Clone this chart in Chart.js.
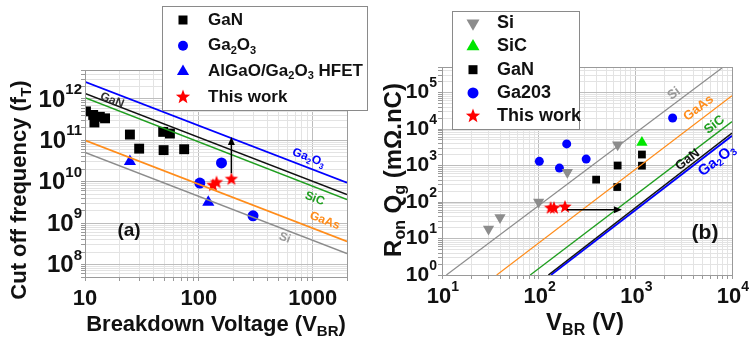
<!DOCTYPE html>
<html>
<head>
<meta charset="utf-8">
<script src="https://cdn.jsdelivr.net/npm/chart.js@4.4.1/dist/chart.umd.min.js"></script>
<style>
  body { margin: 0; background: #fff; }
  #wrap { position: relative; width: 754px; height: 342px; }
  canvas { position: absolute; top: 0; }
  #ca { left: 0; }
  #cb { left: 380px; }
</style>
</head>
<body>
<div id="wrap">
  <canvas id="ca" width="380" height="342"></canvas>
  <canvas id="cb" width="374" height="342"></canvas>
</div>
<script>
"use strict";

// ---- panel (a): cut-off frequency vs breakdown voltage ----
const ganV = [10.2, 11.8, 12.1, 13.5, 15.0, 24.8, 29.9, 48.6, 55.7, 49, 74.3];
const ganFt = [5e11, 4.1e11, 2.7e11, 3.7e11, 3.4e11, 1.38e11, 6.3e10, 1.6e11, 1.46e11, 5.8e10, 6.1e10];
const ga2o3V = [158, 102, 299];
const ga2o3Ft = [2.85e10, 9.3e9, 1.5e9];
const hfetV = [24.8, 121];
const hfetFt = [3.1e10, 3.2e9];
const workV = [133, 143, 193];
const workFt = [8.2e9, 9.6e9, 1.15e10];
// material limit lines (end points)
const limitVa = [10, 2000];
const limitGa2O3a = [2.6e12, 9.5e9];
const limitGaNa = [1.35e12, 4.9e9];
const limitSiCa = [1.07e12, 3.7e9];
const limitGaAsa = [1e11, 3.6e8];
const limitSia = [5.1e10, 1.85e8];
const arrowVa = [193, 193];
const arrowFta = [1.6e10, 1.2e11];

// ---- panel (b): Ron*Qg vs breakdown voltage ----
const siBV = [30.3, 39.8, 100, 198, 656];
const siBR = [18.2, 37.8, 100, 650, 3700];
const sicBV = [1170];
const sicBR = [4300];
const ganBV = [1170, 1170, 656, 393, 650];
const ganBR = [2000, 990, 1000, 410, 257];
const ga2o3BV = [101.6, 164, 195, 310, 2430];
const ga2o3BR = [1300, 850, 3900, 1500, 20000];
const workBV = [133, 144, 187];
const workBR = [68, 68, 73];
const limitSiBV = [11.1, 7870], limitSiBR = [1, 4.7e5];
const limitGaAsBV = [36.8, 10000], limitGaAsBR = [1, 8.1e4];
const limitSiCBV = [81.8, 10000], limitSiCBR = [1, 1.6e4];
const limitGaNBV = [126, 10000], limitGaNBR = [1, 7.7e3];
const limitGa2O3BV = [134, 10000], limitGa2O3BR = [1, 6.5e3];
const arrowVb = [196, 726];
const arrowRb = [61, 61];

const FONT = '"Liberation Sans", Arial, sans-serif';
const BLUE = "#0000ff", RED = "#ff0000", GRAY = "#8c8c8c", ORANGE = "#ff8c1a", GREEN = "#1f9e1f", LIME = "#00e600";

function pts(xs, ys) { return xs.map((x, i) => ({ x, y: ys[i] })); }

function isPow10(v) {
  const l = Math.log10(v);
  return Math.abs(l - Math.round(l)) < 1e-6;
}

function logTicks(min, max) {
  const out = [];
  for (let e = Math.floor(Math.log10(min)); e <= Math.ceil(Math.log10(max)); e++) {
    for (let m = 1; m < 10; m++) {
      const v = m * Math.pow(10, e);
      if (v >= min * 0.999 && v <= max * 1.001) out.push({ value: v });
    }
  }
  return out;
}

function logAxis(min, max, fit) {
  return {
    type: "logarithmic", min, max,
    afterBuildTicks: (s) => { s.ticks = logTicks(min, max); },
    afterFit: fit,
    ticks: { display: false, autoSkip: false },
    grid: {
      color: (c) => (c.tick && isPow10(c.tick.value) ? "#bdbdbd" : "#e3e3e3"),
      lineWidth: 1, drawTicks: true, tickLength: 4, tickColor: "#9a9a9a",
    },
    border: { display: false },
  };
}

function lineSet(data, color, width) {
  return { data, showLine: true, borderColor: color, borderWidth: width, pointRadius: 0, fill: false };
}

function markSet(data, style, color, radius, rotation) {
  return {
    data, showLine: false, pointStyle: style, pointRadius: radius, pointRotation: rotation || 0,
    backgroundColor: color, borderColor: color, borderWidth: 0,
  };
}

function starPath(g, x, y, r) {
  g.beginPath();
  for (let i = 0; i < 10; i++) {
    const rr = i % 2 ? r * 0.42 : r;
    const a = -Math.PI / 2 + (i * Math.PI) / 5;
    g.lineTo(x + rr * Math.cos(a), y + rr * Math.sin(a));
  }
  g.closePath();
}

function starImage(r, color) {
  const c = document.createElement("canvas");
  const s = Math.ceil(2 * r + 2);
  c.width = s; c.height = s;
  const g = c.getContext("2d");
  starPath(g, s / 2, s / 2, r);
  g.fillStyle = color;
  g.fill();
  return c;
}

function marker(ctx, shape, color, x, y, r) {
  ctx.fillStyle = color;
  if (shape === "star") { starPath(ctx, x, y, r); ctx.fill(); return; }
  ctx.beginPath();
  if (shape === "rect") ctx.rect(x - r, y - r, 2 * r, 2 * r);
  else if (shape === "circle") ctx.arc(x, y, r, 0, Math.PI * 2);
  else {
    const base = shape === "down" ? Math.PI / 2 : -Math.PI / 2;
    for (let i = 0; i < 3; i++) {
      const a = base + (i * 2 * Math.PI) / 3;
      ctx.lineTo(x + r * Math.cos(a), y + r * Math.sin(a));
    }
    ctx.closePath();
  }
  ctx.fill();
}

// parts: [text, size, dy]
function rich(ctx, parts, x, y, align) {
  let w = 0;
  parts.forEach((p) => { ctx.font = `bold ${p[1]}px ${FONT}`; w += ctx.measureText(p[0]).width; });
  let cx = align === "center" ? x - w / 2 : align === "right" ? x - w : x;
  ctx.textAlign = "left";
  parts.forEach((p) => {
    ctx.font = `bold ${p[1]}px ${FONT}`;
    ctx.fillText(p[0], cx, y + (p[2] || 0));
    cx += ctx.measureText(p[0]).width;
  });
}

function subText(main, sub, tail, size) {
  const s = Math.round(size * 0.68);
  const parts = [[main, size, 0], [sub, s, size * 0.3]];
  if (tail) parts.push([tail, size, 0]);
  return parts;
}

function arrow(ctx, x1, y1, x2, y2) {
  ctx.strokeStyle = "#000";
  ctx.fillStyle = "#000";
  ctx.lineWidth = 1.5;
  const a = Math.atan2(y2 - y1, x2 - x1);
  const h = 8;
  ctx.beginPath();
  ctx.moveTo(x1, y1);
  ctx.lineTo(x2 - Math.cos(a) * h * 0.8, y2 - Math.sin(a) * h * 0.8);
  ctx.stroke();
  ctx.beginPath();
  ctx.moveTo(x2, y2);
  ctx.lineTo(x2 - h * Math.cos(a) + 3.5 * Math.sin(a), y2 - h * Math.sin(a) - 3.5 * Math.cos(a));
  ctx.lineTo(x2 - h * Math.cos(a) - 3.5 * Math.sin(a), y2 - h * Math.sin(a) + 3.5 * Math.cos(a));
  ctx.closePath();
  ctx.fill();
}

function legend(ctx, box, rows) {
  ctx.fillStyle = "#fff";
  ctx.fillRect(box.x, box.y, box.w, box.h);
  ctx.strokeStyle = "#8a8a8a";
  ctx.lineWidth = 1;
  ctx.strokeRect(box.x + 0.5, box.y + 0.5, box.w, box.h);
  rows.forEach((r, i) => {
    const y = box.first + i * box.step;
    marker(ctx, r.shape, r.color, box.symX, y, r.r);
    ctx.fillStyle = "#111";
    ctx.textBaseline = "middle";
    rich(ctx, r.text, box.textX, y, "left");
  });
}

function lineLabels(chart, ctx, labels) {
  const xs = chart.scales.x, ys = chart.scales.y;
  labels.forEach((l) => {
    const d = chart.data.datasets[l.ds].data;
    const ang = Math.atan2(ys.getPixelForValue(d[1].y) - ys.getPixelForValue(d[0].y),
                           xs.getPixelForValue(d[1].x) - xs.getPixelForValue(d[0].x));
    ctx.save();
    ctx.translate(xs.getPixelForValue(l.x), ys.getPixelForValue(l.y));
    ctx.rotate(ang);
    ctx.fillStyle = l.color;
    ctx.textBaseline = "middle";
    rich(ctx, l.text, 0, 0, "center");
    ctx.restore();
  });
}

function frame(chart, ctx) {
  const a = chart.chartArea;
  ctx.strokeStyle = "#9a9a9a";
  ctx.lineWidth = 1;
  ctx.strokeRect(Math.round(a.left) + 0.5, Math.round(a.top) + 0.5,
                 Math.round(a.right - a.left), Math.round(a.bottom - a.top));
}

const baseOpts = {
  responsive: false, animation: false, events: [],
  plugins: { legend: { display: false }, tooltip: { enabled: false } },
};

// ---------------- panel (a) ----------------
const labelsA = [
  { ds: 1, x: 17.3, y: 9.2e11, color: "#333", text: [["GaN", 12]] },
  { ds: 0, x: 923, y: 3.8e10, color: BLUE, text: [["Ga", 12], ["2", 8, 4], ["O", 12], ["3", 8, 4]] },
  { ds: 2, x: 1040, y: 3.9e9, color: GREEN, text: [["SiC", 12]] },
  { ds: 3, x: 1274, y: 1.14e9, color: ORANGE, text: [["GaAs", 12]] },
  { ds: 4, x: 568, y: 4.4e8, color: "#9a9a9a", text: [["Si", 12]] },
];

new Chart(document.getElementById("ca"), {
  type: "scatter",
  data: {
    datasets: [
      lineSet(pts(limitVa, limitGa2O3a), BLUE, 1.8),
      lineSet(pts(limitVa, limitGaNa), "#111", 1.5),
      lineSet(pts(limitVa, limitSiCa), GREEN, 1.5),
      lineSet(pts(limitVa, limitGaAsa), ORANGE, 1.8),
      lineSet(pts(limitVa, limitSia), GRAY, 1.5),
      markSet(pts(ganV, ganFt), "rect", "#000", 7),
      markSet(pts(ga2o3V, ga2o3Ft), "circle", BLUE, 5.5),
      markSet(pts(hfetV, hfetFt), "triangle", BLUE, 7),
      markSet(pts(workV, workFt), starImage(7, RED), RED, 7),
    ],
  },
  options: {
    ...baseOpts,
    layout: { padding: { left: 0, top: 70, right: 33, bottom: 0 } },
    scales: {
      x: logAxis(10, 2000, (s) => { s.height = 65; }),
      y: logAxis(5e7, 5e12, (s) => { s.width = 85; }),
    },
  },
  plugins: [{
    id: "decorA",
    afterDraw(chart) {
      const ctx = chart.ctx, xs = chart.scales.x, ys = chart.scales.y;
      ctx.save();
      frame(chart, ctx);
      lineLabels(chart, ctx, labelsA);
      arrow(ctx, xs.getPixelForValue(arrowVa[0]), ys.getPixelForValue(arrowFta[0]),
            xs.getPixelForValue(arrowVa[1]), ys.getPixelForValue(arrowFta[1]));
      ctx.fillStyle = "#111";
      ctx.textBaseline = "middle";
      [10, 100, 1000].forEach((v) => rich(ctx, [[String(v), 22]], xs.getPixelForValue(v), 299, "center"));
      [8, 9, 10, 11, 12].forEach((e) => {
        rich(ctx, [["10", 24, 0], [String(e), 15, -10]], 82, ys.getPixelForValue(Math.pow(10, e)) + 1, "right");
      });
      rich(ctx, subText("Breakdown Voltage (V", "BR", ")", 22), 216, 325, "center");
      ctx.save();
      ctx.translate(20, 190);
      ctx.rotate(-Math.PI / 2);
      rich(ctx, subText("Cut off frequency (f", "T", ")", 22), 0, 0, "center");
      ctx.restore();
      rich(ctx, [["(a)", 19]], 129, 231, "center");
      legend(ctx, { x: 162, y: 6, w: 205, h: 104, symX: 183, textX: 208, first: 20, step: 25.7 }, [
        { shape: "rect", color: "#000", r: 4.5, text: [["GaN", 17]] },
        { shape: "circle", color: BLUE, r: 5, text: [["Ga", 17], ["2", 11, 5], ["O", 17], ["3", 11, 5]] },
        { shape: "tri", color: BLUE, r: 7, text: [["AlGaO/Ga", 17], ["2", 11, 5], ["O", 17], ["3", 11, 5], [" HFET", 17]] },
        { shape: "star", color: RED, r: 7.5, text: [["This work", 17]] },
      ]);
      ctx.restore();
    },
  }],
});

// ---------------- panel (b) ----------------
const labelsB = [
  { ds: 0, x: 2520, y: 9.3e4, color: "#9a9a9a", text: [["Si", 13]] },
  { ds: 1, x: 4510, y: 3.76e4, color: ORANGE, text: [["GaAs", 13]] },
  { ds: 2, x: 6580, y: 1.31e4, color: GREEN, text: [["SiC", 13]] },
  { ds: 3, x: 3480, y: 1440, color: "#111", text: [["GaN", 13]] },
  { ds: 4, x: 6980, y: 1370, color: BLUE, text: [["Ga", 15], ["2", 10, 4], ["O", 15], ["3", 10, 4]] },
];

new Chart(document.getElementById("cb"), {
  type: "scatter",
  data: {
    datasets: [
      lineSet(pts(limitSiBV, limitSiBR), GRAY, 1.2),
      lineSet(pts(limitGaAsBV, limitGaAsBR), ORANGE, 1.2),
      lineSet(pts(limitSiCBV, limitSiCBR), GREEN, 1.3),
      lineSet(pts(limitGaNBV, limitGaNBR), "#111", 1.5),
      lineSet(pts(limitGa2O3BV, limitGa2O3BR), BLUE, 1.8),
      markSet(pts(siBV, siBR), "triangle", GRAY, 6.5, 180),
      markSet(pts(sicBV, sicBR), "triangle", LIME, 6.5),
      markSet(pts(ganBV, ganBR), "rect", "#000", 5.5),
      markSet(pts(ga2o3BV, ga2o3BR), "circle", BLUE, 4.5),
      markSet(pts(workBV, workBR), starImage(7, RED), RED, 7),
    ],
  },
  options: {
    ...baseOpts,
    layout: { padding: { left: 0, top: 67, right: 22, bottom: 0 } },
    scales: {
      x: logAxis(10, 10000, (s) => { s.height = 67; }),
      y: logAxis(1, 5e5, (s) => { s.width = 62; }),
    },
  },
  plugins: [{
    id: "decorB",
    afterDraw(chart) {
      const ctx = chart.ctx, xs = chart.scales.x, ys = chart.scales.y;
      ctx.save();
      frame(chart, ctx);
      lineLabels(chart, ctx, labelsB);
      arrow(ctx, xs.getPixelForValue(arrowVb[0]), ys.getPixelForValue(arrowRb[0]),
            xs.getPixelForValue(arrowVb[1]), ys.getPixelForValue(arrowRb[1]));
      ctx.fillStyle = "#111";
      ctx.textBaseline = "middle";
      [1, 2, 3, 4].forEach((e) => {
        rich(ctx, [["10", 22, 0], [String(e), 14, -10]], xs.getPixelForValue(Math.pow(10, e)) + 1, 297, "center");
      });
      [0, 1, 2, 3, 4, 5].forEach((e) => {
        rich(ctx, [["10", 21, 0], [String(e), 14, -9]], 57, ys.getPixelForValue(Math.pow(10, e)), "right");
      });
      rich(ctx, subText("V", "BR", " (V)", 24), 205, 323, "center");
      ctx.save();
      ctx.translate(14, 170);
      ctx.rotate(-Math.PI / 2);
      rich(ctx, [["R", 24, 0], ["on", 16, 7], [" Q", 24, 0], ["g", 16, 7], [" (mΩ.nC)", 24, 0]], 0, 0, "center");
      ctx.restore();
      rich(ctx, [["(b)", 21]], 325, 233, "center");
      legend(ctx, { x: 72, y: 11, w: 127, h: 118, symX: 93, textX: 117, first: 23.3, step: 23.2 }, [
        { shape: "down", color: GRAY, r: 7.5, text: [["Si", 18]] },
        { shape: "tri", color: LIME, r: 7.5, text: [["SiC", 18]] },
        { shape: "rect", color: "#000", r: 4.5, text: [["GaN", 18]] },
        { shape: "circle", color: BLUE, r: 5.5, text: [["Ga203", 18]] },
        { shape: "star", color: RED, r: 7.5, text: [["This work", 18]] },
      ]);
      ctx.restore();
    },
  }],
});
</script>
</body>
</html>
